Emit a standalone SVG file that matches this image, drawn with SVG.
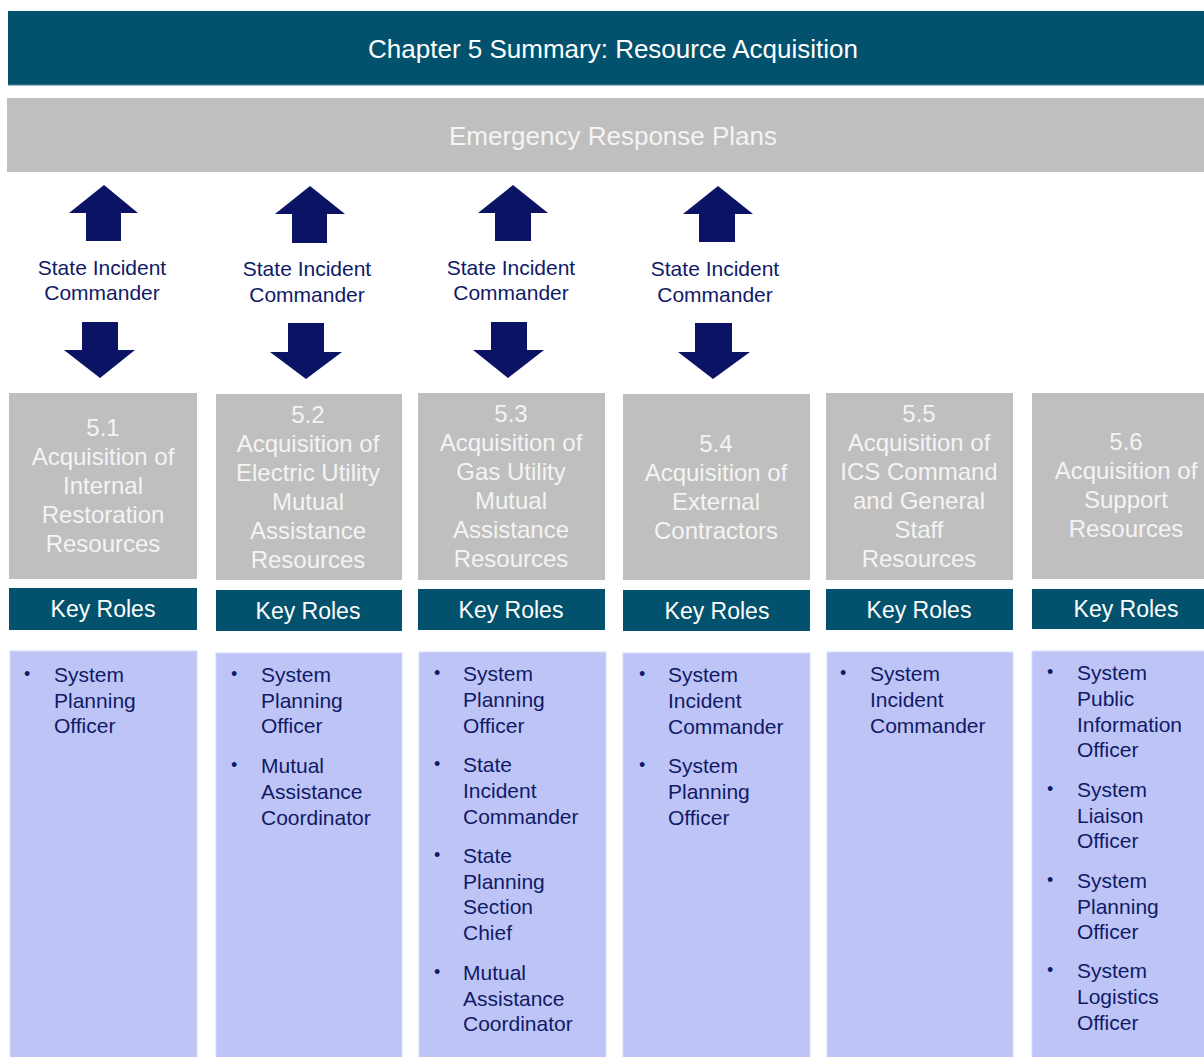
<svg xmlns="http://www.w3.org/2000/svg" width="1204" height="1057" viewBox="0 0 1204 1057">
<style>
text{font-family:"Liberation Sans",Arial,sans-serif}
.hdr{fill:#ffffff;font-size:26px;text-anchor:middle}
.plan{fill:#f4f4f4;font-size:26px;text-anchor:middle}
.sec{fill:#bfbfbf}
.sect{fill:#f4f4f4;font-size:24px;text-anchor:middle}
.kr{fill:#02526e}
.krt{fill:#ffffff;font-size:23px;text-anchor:middle}
.lav{fill:#bec5f6;stroke:#d6dbfa;stroke-width:1}
.li{fill:#101a66;font-size:21px}
.bul{fill:#101a66;font-size:18px}
.arr{fill:#0b1464}
.sic{fill:#101a66;font-size:21px;text-anchor:middle}
</style>
<g id="title">
<rect x="8" y="11" width="1200" height="74" fill="#02526e"/>
<rect x="8" y="84" width="1200" height="1.5" fill="#2e7088"/>
<text class="hdr" x="613" y="58">Chapter 5 Summary: Resource Acquisition</text>
</g>
<g id="erp">
<rect x="7" y="98" width="1200" height="74" fill="#bfbfbf"/>
<text class="plan" x="613" y="145">Emergency Response Plans</text>
</g>
<g id="connectors">
<polygon class="arr" points="104,185 138,213 121,213 121,241 86,241 86,213 69,213"/>
<polygon class="arr" points="82,322 118,322 118,350 135,350 100,378 64,350 82,350"/>
<polygon class="arr" points="310,186 345,214 327,214 327,243 292,243 292,214 275,214"/>
<polygon class="arr" points="288,323 324,323 324,352 342,352 306,379 270,352 288,352"/>
<polygon class="arr" points="513,185 548,213 531,213 531,241 495,241 495,213 478,213"/>
<polygon class="arr" points="491,322 527,322 527,350 544,350 508,378 473,350 491,350"/>
<polygon class="arr" points="718,186 753,214 735,214 735,242 699,242 699,214 683,214"/>
<polygon class="arr" points="695,323 732,323 732,352 750,352 713,379 678,352 695,352"/>
</g>
<g id="sic-labels">
<text class="sic" x="102" y="275">State Incident</text>
<text class="sic" x="102" y="300">Commander</text>
<text class="sic" x="307" y="276">State Incident</text>
<text class="sic" x="307" y="302">Commander</text>
<text class="sic" x="511" y="275">State Incident</text>
<text class="sic" x="511" y="300">Commander</text>
<text class="sic" x="715" y="276">State Incident</text>
<text class="sic" x="715" y="302">Commander</text>
</g>
<g id="s51">
<rect class="sec" x="9" y="393" width="188" height="186"/>
<text class="sect" x="103" y="436">5.1</text>
<text class="sect" x="103" y="465">Acquisition of</text>
<text class="sect" x="103" y="494">Internal</text>
<text class="sect" x="103" y="523">Restoration</text>
<text class="sect" x="103" y="552">Resources</text>
<rect class="kr" x="9" y="588" width="188" height="42"/>
<text class="krt" x="103" y="617">Key Roles</text>
<rect class="lav" x="10" y="651" width="187" height="410"/>
<text class="bul" x="24" y="680">•</text>
<text class="li" x="54" y="682">System</text>
<text class="li" x="54" y="708">Planning</text>
<text class="li" x="54" y="733">Officer</text>
</g>
<g id="s52">
<rect class="sec" x="216" y="394" width="186" height="186"/>
<text class="sect" x="308" y="423">5.2</text>
<text class="sect" x="308" y="452">Acquisition of</text>
<text class="sect" x="308" y="481">Electric Utility</text>
<text class="sect" x="308" y="510">Mutual</text>
<text class="sect" x="308" y="539">Assistance</text>
<text class="sect" x="308" y="568">Resources</text>
<rect class="kr" x="216" y="590" width="186" height="41"/>
<text class="krt" x="308" y="619">Key Roles</text>
<rect class="lav" x="216" y="653" width="186" height="410"/>
<text class="bul" x="231" y="680">•</text>
<text class="li" x="261" y="682">System</text>
<text class="li" x="261" y="708">Planning</text>
<text class="li" x="261" y="733">Officer</text>
<text class="bul" x="231" y="771">•</text>
<text class="li" x="261" y="773">Mutual</text>
<text class="li" x="261" y="799">Assistance</text>
<text class="li" x="261" y="825">Coordinator</text>
</g>
<g id="s53">
<rect class="sec" x="418" y="393" width="187" height="187"/>
<text class="sect" x="511" y="422">5.3</text>
<text class="sect" x="511" y="451">Acquisition of</text>
<text class="sect" x="511" y="480">Gas Utility</text>
<text class="sect" x="511" y="509">Mutual</text>
<text class="sect" x="511" y="538">Assistance</text>
<text class="sect" x="511" y="567">Resources</text>
<rect class="kr" x="418" y="589" width="187" height="41"/>
<text class="krt" x="511" y="618">Key Roles</text>
<rect class="lav" x="419" y="652" width="187" height="410"/>
<text class="bul" x="434" y="679">•</text>
<text class="li" x="463" y="681">System</text>
<text class="li" x="463" y="707">Planning</text>
<text class="li" x="463" y="733">Officer</text>
<text class="bul" x="434" y="770">•</text>
<text class="li" x="463" y="772">State</text>
<text class="li" x="463" y="798">Incident</text>
<text class="li" x="463" y="824">Commander</text>
<text class="bul" x="434" y="861">•</text>
<text class="li" x="463" y="863">State</text>
<text class="li" x="463" y="889">Planning</text>
<text class="li" x="463" y="914">Section</text>
<text class="li" x="463" y="940">Chief</text>
<text class="bul" x="434" y="978">•</text>
<text class="li" x="463" y="980">Mutual</text>
<text class="li" x="463" y="1006">Assistance</text>
<text class="li" x="463" y="1031">Coordinator</text>
</g>
<g id="s54">
<rect class="sec" x="623" y="394" width="187" height="186"/>
<text class="sect" x="716" y="452">5.4</text>
<text class="sect" x="716" y="481">Acquisition of</text>
<text class="sect" x="716" y="510">External</text>
<text class="sect" x="716" y="539">Contractors</text>
<rect class="kr" x="623" y="590" width="187" height="41"/>
<text class="krt" x="717" y="619">Key Roles</text>
<rect class="lav" x="623" y="653" width="187" height="410"/>
<text class="bul" x="639" y="680">•</text>
<text class="li" x="668" y="682">System</text>
<text class="li" x="668" y="708">Incident</text>
<text class="li" x="668" y="734">Commander</text>
<text class="bul" x="639" y="771">•</text>
<text class="li" x="668" y="773">System</text>
<text class="li" x="668" y="799">Planning</text>
<text class="li" x="668" y="825">Officer</text>
</g>
<g id="s55">
<rect class="sec" x="826" y="393" width="187" height="187"/>
<text class="sect" x="919" y="422">5.5</text>
<text class="sect" x="919" y="451">Acquisition of</text>
<text class="sect" x="919" y="480">ICS Command</text>
<text class="sect" x="919" y="509">and General</text>
<text class="sect" x="919" y="538">Staff</text>
<text class="sect" x="919" y="567">Resources</text>
<rect class="kr" x="826" y="589" width="187" height="41"/>
<text class="krt" x="919" y="618">Key Roles</text>
<rect class="lav" x="827" y="652" width="186" height="410"/>
<text class="bul" x="840" y="679">•</text>
<text class="li" x="870" y="681">System</text>
<text class="li" x="870" y="707">Incident</text>
<text class="li" x="870" y="733">Commander</text>
</g>
<g id="s56">
<rect class="sec" x="1032" y="393" width="190" height="186"/>
<text class="sect" x="1126" y="450">5.6</text>
<text class="sect" x="1126" y="479">Acquisition of</text>
<text class="sect" x="1126" y="508">Support</text>
<text class="sect" x="1126" y="537">Resources</text>
<rect class="kr" x="1032" y="589" width="190" height="40"/>
<text class="krt" x="1126" y="617">Key Roles</text>
<rect class="lav" x="1032" y="651" width="190" height="410"/>
<text class="bul" x="1047" y="678">•</text>
<text class="li" x="1077" y="680">System</text>
<text class="li" x="1077" y="706">Public</text>
<text class="li" x="1077" y="732">Information</text>
<text class="li" x="1077" y="757">Officer</text>
<text class="bul" x="1047" y="795">•</text>
<text class="li" x="1077" y="797">System</text>
<text class="li" x="1077" y="823">Liaison</text>
<text class="li" x="1077" y="848">Officer</text>
<text class="bul" x="1047" y="886">•</text>
<text class="li" x="1077" y="888">System</text>
<text class="li" x="1077" y="914">Planning</text>
<text class="li" x="1077" y="939">Officer</text>
<text class="bul" x="1047" y="976">•</text>
<text class="li" x="1077" y="978">System</text>
<text class="li" x="1077" y="1004">Logistics</text>
<text class="li" x="1077" y="1030">Officer</text>
</g>
</svg>
